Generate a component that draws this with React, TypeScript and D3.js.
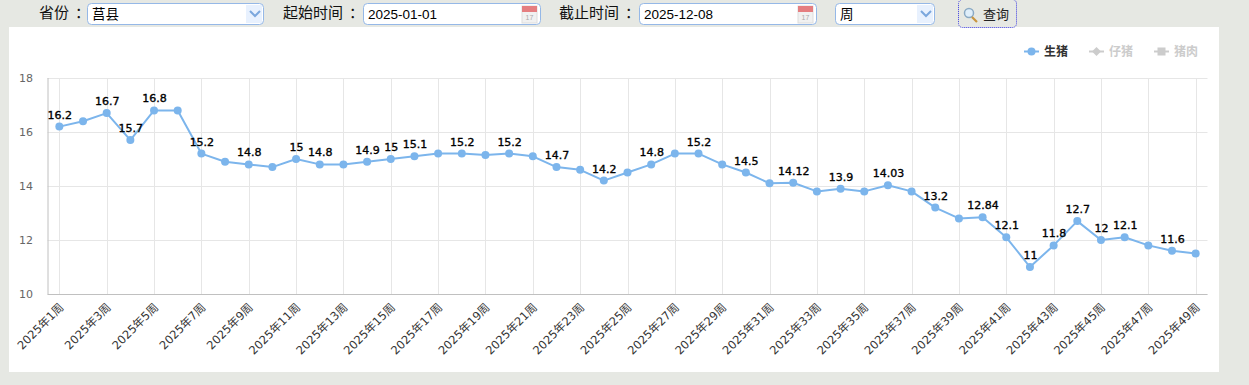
import React from "react";
import * as d3 from "d3";

const weeks = d3.range(1, 50).map((w) => `2025年${w}周`);
const shengzhu = [16.2,16.4,16.7,15.7,16.8,16.8,15.2,14.9,14.8,14.7,15,14.8,14.8,14.9,15,15.1,15.2,15.2,15.15,15.2,15.1,14.7,14.6,14.2,14.5,14.8,15.2,15.2,14.8,14.5,14.1,14.12,13.8,13.9,13.8,14.03,13.8,13.2,12.8,12.84,12.1,11,11.8,12.7,12,12.1,11.8,11.6,11.5];
const labelledWeeks = [1,3,4,5,7,9,11,12,14,15,16,18,20,22,24,26,28,30,32,34,36,38,40,41,42,43,44,45,46,48];
const yTicks = [10,12,14,16,18];
const legendItems = ["生猪","仔猪","猪肉"];

const latin = '"DejaVu Sans","Noto Sans CJK SC",sans-serif';
const cjk = '"Noto Sans CJK SC","Liberation Sans",sans-serif';
const arial = '"Liberation Sans","Noto Sans CJK SC",sans-serif';

const plot = { left: 47.5, right: 1207.5, top: 78, bottom: 294 };

function Field({ x, w, text, chevron, calendar }: { x: number; w: number; text: string; chevron?: boolean; calendar?: boolean }) {
  return (
    <g>
      <rect x={x + 0.5} y={3.5} width={w} height={21} rx={4} fill="#fff" stroke="#95b8e7" />
      {chevron && <path d={`M${x + w - 17} 5 h16 v18 h-16 z`} fill="#e8f1fe" />}
      {chevron && <path d={`M${x + w - 13} 11 l5 5 l5 -5`} fill="none" stroke="#7ba7dd" strokeWidth={2} />}
      {calendar && (
        <g>
          <rect x={x + w - 18} y={6} width={15} height={17} fill="#f1f1f1" stroke="#ddd" />
          <rect x={x + w - 18} y={6} width={15} height={6} fill="#e57e80" />
          <text x={x + w - 10.5} y={20} fontSize={7} fill="#aaa" textAnchor="middle" fontFamily={arial}>17</text>
        </g>
      )}
      <text x={x + 5} y={19} fontSize={13.5} fill="#000" fontFamily={text.startsWith("2") ? arial : cjk}>{text}</text>
    </g>
  );
}

function Caption({ x, text }: { x: number; text: string }) {
  return (
    <text x={x} y={18} fontSize={15} fill="#111" fontFamily={cjk}>
      {text}
      <tspan dx={6}>：</tspan>
    </text>
  );
}

export default function App() {
  const x = d3.scaleBand<string>().domain(weeks).range([plot.left, plot.right]);
  const cx = (w: string) => (x(w) as number) + x.bandwidth() / 2;
  const y = d3.scaleLinear().domain([10, 18]).range([plot.bottom, plot.top]);
  const tickWeeks = weeks.filter((_, i) => i % 2 === 0);
  const line = d3.line<number>().x((_, i) => cx(weeks[i])).y((d) => y(d));
  const blue = "#7cb5ec";
  return (
    <svg width={1249} height={385} style={{ position: "absolute", left: 0, top: 0 }}>
      <rect width={1249} height={385} fill="#e6e8e3" />
      <rect x={9} y={27} width={1210} height={345} fill="#fff" />

      <Caption x={39} text="省份" />
      <Field x={87} w={176} text="莒县" chevron />
      <Caption x={283} text="起始时间" />
      <Field x={363} w={177} text="2025-01-01" calendar />
      <Caption x={559} text="截止时间" />
      <Field x={639} w={177} text="2025-12-08" calendar />
      <Field x={835} w={99} text="周" chevron />
      <rect x={958.5} y={-0.5} width={58} height={28} rx={4} fill="#e6e8e3" stroke="#3a3ae0" strokeDasharray="1 1" />
      <circle cx={969} cy={13} r={4.5} fill="#dfeefa" stroke="#8aa9c4" strokeWidth={1.5} />
      <path d="M972 17 l5 5" stroke="#c9953f" strokeWidth={2.2} />
      <text x={983} y={19} fontSize={13} fill="#222" fontFamily={cjk}>查询</text>

      {tickWeeks.map((w) => (
        <line key={w} x1={Math.round(cx(w)) + 0.5} x2={Math.round(cx(w)) + 0.5} y1={plot.top} y2={plot.bottom} stroke="#e6e6e6" />
      ))}
      {yTicks.map((t) => (
        <line key={t} x1={plot.left} x2={plot.right} y1={Math.round(y(t)) + 0.5} y2={Math.round(y(t)) + 0.5} stroke="#e6e6e6" />
      ))}
      <line x1={48} x2={48} y1={plot.top} y2={plot.bottom} stroke="#c0c0c0" />
      <line x1={plot.left} x2={plot.right} y1={plot.bottom + 0.5} y2={plot.bottom + 0.5} stroke="#c0c0c0" />

      {yTicks.map((t) => (
        <text key={t} x={33} y={y(t) + 4} textAnchor="end" fontSize={11} fill="#666" fontFamily={latin}>{t}</text>
      ))}
      {tickWeeks.map((w) => (
        <text
          key={w}
          transform={`translate(${cx(w) + 5},${plot.bottom + 14}) rotate(-45)`}
          textAnchor="end"
          fontSize={11.5}
          fill="#333"
          fontFamily={latin}
        >
          {w}
        </text>
      ))}

      <path d={line(shengzhu) as string} fill="none" stroke={blue} strokeWidth={2} strokeLinejoin="round" />
      {shengzhu.map((v, i) => (
        <circle key={i} cx={cx(weeks[i])} cy={y(v)} r={4} fill={blue} />
      ))}
      {labelledWeeks.map((wk) => {
        const i = wk - 1;
        return (
          <text key={wk} x={cx(weeks[i]) + 0.5} y={y(shengzhu[i]) - 8} textAnchor="middle" fontSize={11} fill="#000" stroke="#000" strokeWidth={0.35} fontFamily={latin}>
            {shengzhu[i]}
          </text>
        );
      })}

      {legendItems.map((name, i) => {
        const lx = [1024, 1089, 1154][i];
        const color = i === 0 ? blue : "#cccccc";
        return (
          <g key={name}>
            <line x1={lx} x2={lx + 15} y1={51.5} y2={51.5} stroke={color} strokeWidth={2} />
            {i === 0 && <circle cx={lx + 7.5} cy={51.5} r={4} fill={color} />}
            {i === 1 && <path d={`M${lx + 7.5} 47 l4.5 4.5 l-4.5 4.5 l-4.5 -4.5 z`} fill={color} />}
            {i === 2 && <rect x={lx + 3.5} y={47.5} width={8} height={8} fill={color} />}
            <text x={lx + 20} y={55.5} fontSize={12} fontWeight={700} fill={i === 0 ? "#333" : "#ccc"} fontFamily={cjk}>{name}</text>
          </g>
        );
      })}
    </svg>
  );
}
